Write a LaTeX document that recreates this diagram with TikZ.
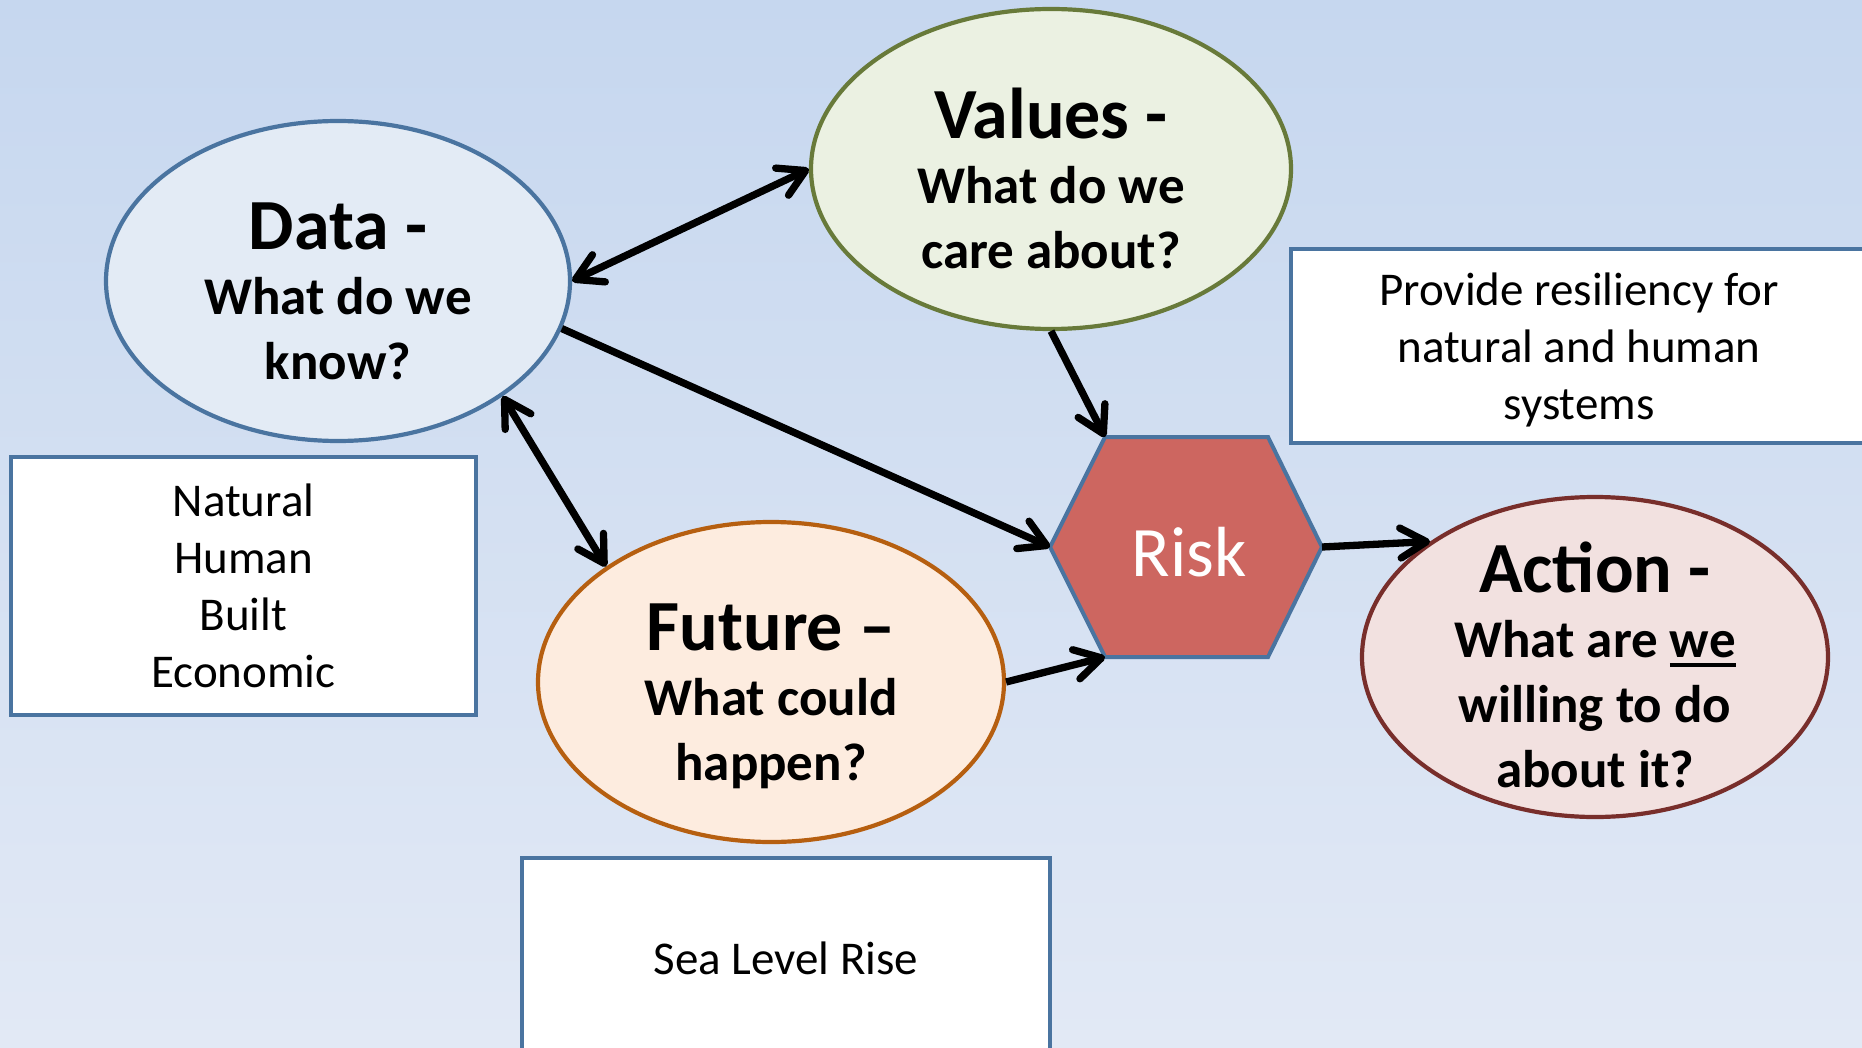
\documentclass[tikz,border=0pt]{standalone}
\usepackage{fontspec}
\setmainfont{Carlito}
\usetikzlibrary{arrows.meta,shapes.geometric}
\definecolor{bgtop}{RGB}{198,215,239}
\definecolor{bgbot}{RGB}{226,233,245}
\definecolor{blueline}{RGB}{74,116,160}
\definecolor{datafill}{RGB}{227,235,245}
\definecolor{valline}{RGB}{104,122,58}
\definecolor{valfill}{RGB}{235,241,226}
\definecolor{futline}{RGB}{182,95,16}
\definecolor{futfill}{RGB}{253,236,223}
\definecolor{actline}{RGB}{120,46,43}
\definecolor{actfill}{RGB}{242,225,224}
\definecolor{riskfill}{RGB}{205,102,96}
\newcommand{\ovalhead}[1]{{\fontsize{72}{65}\selectfont #1}}
\newcommand{\weline}[1]{\setbox0\hbox{#1}\rlap{\rule[-9pt]{\wd0}{3.3pt}}\box0}

\begin{document}
\begin{tikzpicture}[x=1pt, y=-1pt,
    >={Straight Barb[length=26pt, width=30pt, round]},
    oval/.style={ellipse, draw, line width=4.2pt, minimum height=320pt, inner sep=0pt},
    ovaltext/.style={align=center, inner sep=0pt, font=\bfseries\fontsize{53}{65}\selectfont},
    box/.style={rectangle, draw=blueline, fill=white, line width=4pt, align=center, font=\fontsize{47}{57}\selectfont},
    hexa/.style={draw=blueline, fill=riskfill, line width=4pt, line join=miter},
    arrow/.style={->, line width=7.3pt}
]
\useasboundingbox (0,0) rectangle (1862,1048);
\shade[top color=bgtop, bottom color=bgbot] (0,0) rectangle (1862,1048);
\clip (0,0) rectangle (1862,1048);

\node[oval, draw=blueline, fill=datafill, minimum width=464pt] (data) at (338,281) {};
\node[oval, draw=valline, fill=valfill, minimum width=480pt] (values) at (1051,169) {};
\node[oval, draw=futline, fill=futfill, minimum width=466pt] (future) at (771,682) {};
\node[oval, draw=actline, fill=actfill, minimum width=466pt] (action) at (1595,657) {};

\node[ovaltext] (datatext) at (338,291) {\ovalhead{Data -}\\What do we\\know?};
\node[ovaltext] (valuestext) at (1051,178) {\ovalhead{Values -}\\What do we\\care about?};
\node[ovaltext] (futuretext) at (771,696) {\ovalhead{Future –}\\What could\\happen?};
\node[ovaltext] (actiontext) at (1595,665) {\ovalhead{Action -}\\What are \weline{we}\\willing to do\\about it?};

\node[box, minimum width=465pt, minimum height=258pt] (assets) at (243.5,586) {Natural\\Human\\Built\\Economic};
\node[box, minimum width=576pt, minimum height=194pt, text depth=0pt] (goal) at (1579,346) {Provide resiliency for\\natural and human\\systems};
\node[box, minimum width=528pt, minimum height=200pt] (slr) at (786,958) {Sea Level Rise};

\coordinate (riskw) at (1050,547);
\coordinate (risknw) at (1105,437);
\coordinate (riskne) at (1268,437);
\coordinate (riske) at (1322,547);
\coordinate (riskse) at (1268,657);
\coordinate (risksw) at (1105,657);
\draw[hexa] (riskw) -- (risknw) -- (riskne) -- (riske) -- (riskse) -- (risksw) -- cycle;
\node[text=white, font=\fontsize{71}{71}\selectfont] (risk) at (1189,552) {Risk};

\draw[arrow, <->] (data.east) -- (values.west);
\draw[arrow] (data.-12) -- (riskw);
\draw[arrow, <->] (data.-35) -- (future.145);
\draw[arrow] (values.south) -- (risknw);
\draw[arrow] (future.east) -- (risksw);
\draw[arrow] (riske) -- (action.145);
\end{tikzpicture}
\end{document}
